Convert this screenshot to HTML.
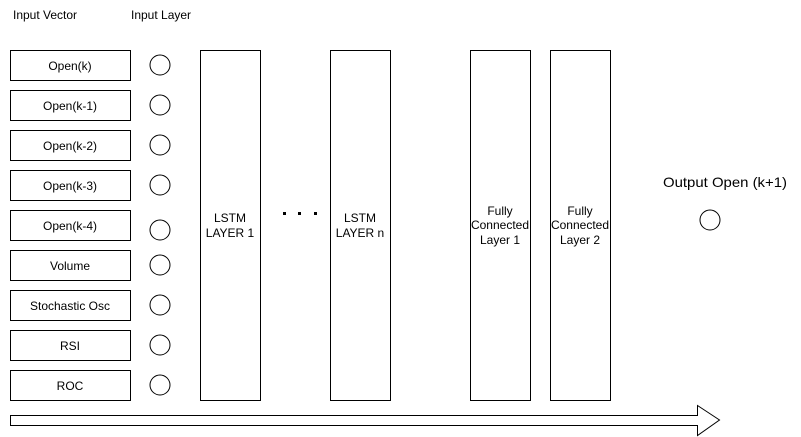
<!DOCTYPE html>
<html><head><meta charset="utf-8"><style>
html,body{margin:0;padding:0;background:#fff;}
svg{display:block;}
text{font-family:"Liberation Sans",Arial,sans-serif;fill:#000;}
</style></head><body>
<svg width="801" height="437" viewBox="0 0 801 437" xmlns="http://www.w3.org/2000/svg">
<rect width="801" height="437" fill="#fff"/>
<text x="13" y="19" font-size="12">Input Vector</text>
<text x="131" y="19" font-size="12">Input Layer</text>
<g fill="#fff" stroke="#000" stroke-width="1">
<rect x="10.5" y="50.5" width="120" height="30"/>
<rect x="10.5" y="90.5" width="120" height="30"/>
<rect x="10.5" y="130.5" width="120" height="30"/>
<rect x="10.5" y="170.5" width="120" height="30"/>
<rect x="10.5" y="210.5" width="120" height="30"/>
<rect x="10.5" y="250.5" width="120" height="30"/>
<rect x="10.5" y="290.5" width="120" height="30"/>
<rect x="10.5" y="330.5" width="120" height="30"/>
<rect x="10.5" y="370.5" width="120" height="30"/>
<circle cx="160" cy="65" r="10"/>
<circle cx="160" cy="105" r="10"/>
<circle cx="160" cy="145" r="10"/>
<circle cx="160" cy="185" r="10"/>
<circle cx="160" cy="230" r="10"/>
<circle cx="160" cy="265" r="10"/>
<circle cx="160" cy="305" r="10"/>
<circle cx="160" cy="345" r="10"/>
<circle cx="160" cy="385" r="10"/>
<rect x="200.5" y="50.5" width="60" height="350"/>
<rect x="330.5" y="50.5" width="60" height="350"/>
<rect x="470.5" y="50.5" width="60" height="350"/>
<rect x="550.5" y="50.5" width="60" height="350"/>
<circle cx="710" cy="220" r="10"/>
<path d="M10.5 415.5 H697.5 V405.5 L719.5 420 L697.5 435.5 V425.5 H10.5 Z"/>
</g>
<g font-size="12" text-anchor="middle">
<text x="70" y="70">Open(k)</text>
<text x="70" y="110">Open(k-1)</text>
<text x="70" y="150">Open(k-2)</text>
<text x="70" y="190">Open(k-3)</text>
<text x="70" y="230">Open(k-4)</text>
<text x="70" y="270">Volume</text>
<text x="70" y="310">Stochastic Osc</text>
<text x="70" y="350">RSI</text>
<text x="70" y="390">ROC</text>
<text x="230" y="222">LSTM</text>
<text x="230" y="237">LAYER 1</text>
<text x="360" y="222">LSTM</text>
<text x="360" y="237">LAYER n</text>
<text x="500" y="215">Fully</text>
<text x="500" y="229">Connected</text>
<text x="500" y="244">Layer 1</text>
<text x="580" y="215">Fully</text>
<text x="580" y="229">Connected</text>
<text x="580" y="244">Layer 2</text>
</g>
<g fill="#000">
<rect x="283" y="212" width="3" height="3"/>
<rect x="298" y="212" width="3" height="3"/>
<rect x="314" y="212" width="3" height="3"/>
</g>
<text x="663" y="187" font-size="14" textLength="124" lengthAdjust="spacingAndGlyphs">Output Open (k+1)</text>
</svg>
</body></html>
